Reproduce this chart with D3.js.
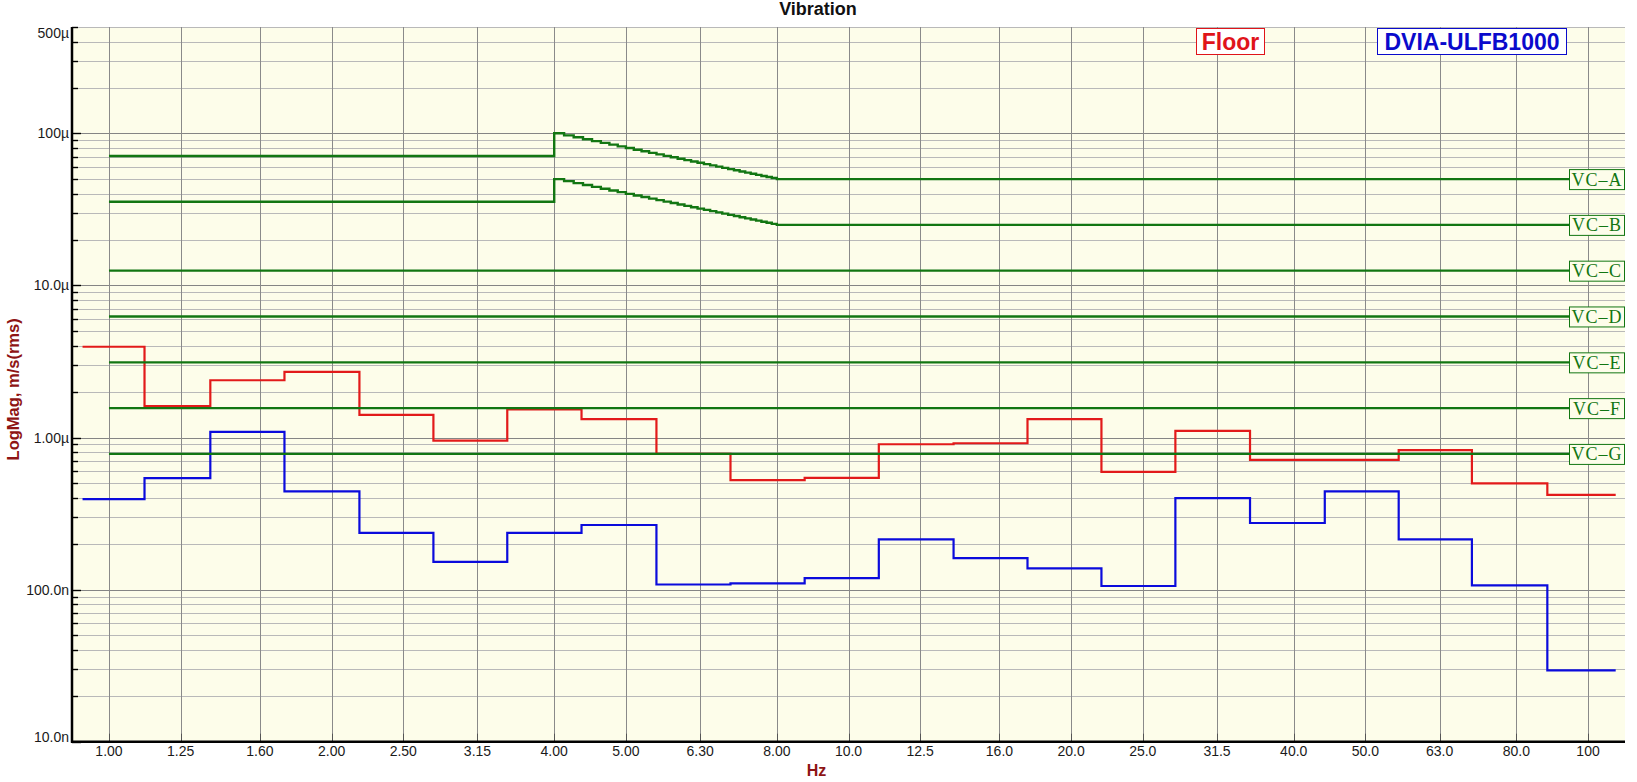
<!DOCTYPE html>
<html>
<head>
<meta charset="utf-8">
<script src="https://cdn.jsdelivr.net/npm/d3@7"></script>
<style>
  html, body { margin: 0; padding: 0; background: #ffffff; }
  svg { display: block; }
</style>
</head>
<body>
<svg id="chart" width="1637" height="782"></svg>
<script>
// ---------------- DATA ----------------
const bandLabels = ["1.00","1.25","1.60","2.00","2.50","3.15","4.00","5.00","6.30","8.00","10.0","12.5","16.0","20.0","25.0","31.5","40.0","50.0","63.0","80.0","100"];
const bandHz = [1, 1.25, 1.6, 2, 2.5, 3.15, 4, 5, 6.3, 8, 10, 12.5, 16, 20, 25, 31.5, 40, 50, 63, 80, 100];
// band boundaries (Hz) where the measured step traces change level
const bandEdgesHz = [1.117, 1.371, 1.727, 2.181, 2.746, 3.456, 4.355, 5.499, 6.925, 8.724, 10.99,
                     13.87, 17.46, 21.98, 27.67, 34.91, 44.06, 55.46, 69.66, 88.1];
const seriesStartHz = 0.921;
const seriesEndHz = 109;

// one-third-octave band levels, m/s rms
const floorVals = [3.95e-6, 1.61e-6, 2.38e-6, 2.70e-6, 1.41e-6, 0.955e-6, 1.53e-6, 1.32e-6, 0.78e-6, 0.524e-6, 0.542e-6,
                   0.903e-6, 0.917e-6, 1.32e-6, 0.594e-6, 1.107e-6, 0.712e-6, 0.712e-6, 0.825e-6, 0.500e-6, 0.419e-6];
const dviaVals  = [0.393e-6, 0.540e-6, 1.09e-6, 0.443e-6, 0.236e-6, 0.152e-6, 0.236e-6, 0.266e-6, 0.108e-6, 0.110e-6, 0.119e-6,
                   0.214e-6, 0.161e-6, 0.138e-6, 0.1056e-6, 0.399e-6, 0.274e-6, 0.443e-6, 0.214e-6, 0.1067e-6, 0.0294e-6];

// vibration criteria
const vcNames  = ["VC\u2013A", "VC\u2013B", "VC\u2013C", "VC\u2013D", "VC\u2013E", "VC\u2013F", "VC\u2013G"];
const vcLevels = [50e-6, 25e-6, 12.5e-6, 6.25e-6, 3.12e-6, 1.56e-6, 0.78e-6];
const vcStartHz = 1.0;
const vcLowA = 71e-6;   // VC-A below 4 Hz
const vcLowB = 35.5e-6; // VC-B below 4 Hz
const vcStairHz = [4, 4.125, 4.25, 4.375, 4.5, 4.625, 4.75, 4.875, 5, 5.125, 5.25, 5.375, 5.5, 5.625, 5.75, 5.875,
                   6, 6.125, 6.25, 6.375, 6.5, 6.625, 6.75, 6.875, 7, 7.125, 7.25, 7.375, 7.5, 7.625, 7.75, 7.875, 8];
const vcAStair = [100, 96.97, 94.12, 91.43, 88.89, 86.49, 84.21, 82.05, 80, 78.05, 76.19, 74.42, 72.73, 71.11, 69.57, 68.09,
                  66.67, 65.31, 64, 62.75, 61.54, 60.38, 59.26, 58.18, 57.14, 56.14, 55.17, 54.24, 53.33, 52.46, 51.61, 50.79, 50];
const vcBStair = [50, 48.48, 47.06, 45.71, 44.44, 43.24, 42.11, 41.03, 40, 39.02, 38.10, 37.21, 36.36, 35.56, 34.78, 34.04,
                  33.33, 32.65, 32, 31.37, 30.77, 30.19, 29.63, 29.09, 28.57, 28.07, 27.59, 27.12, 26.67, 26.23, 25.81, 25.40, 25];

const yTickValues = [1e-8, 1e-7, 1e-6, 1e-5, 1e-4, 5e-4];
const yTickLabels = ["10.0n", "100.0n", "1.00\u00b5", "10.0\u00b5", "100\u00b5", "500\u00b5"];

const legendNames = ["Floor", "DVIA-ULFB1000"];

// ---------------- LAYOUT ----------------
const L = 72, R = 1625, T = 27, B = 741.7;
const svg = d3.select("#chart");
const x = d3.scaleLog().domain([Math.pow(10, -0.05), Math.pow(10, 2.05)]).range([L, R]);
const y = d3.scaleLog().domain([1e-8, 5e-4]).range([B, T]);

const cRed = "#e21a1a", cBlue = "#0b0bdc", cGreen = "#127612", cAxisTitle = "#8e1414";
const sans = "'Liberation Sans', Arial, sans-serif";

// background
svg.append("rect").attr("x", L).attr("y", T).attr("width", R - L).attr("height", B - T).attr("fill", "#fdfdea");

// horizontal grid
const gridVals = [];
for (let e = -8; e <= -4; e++) {
  for (let m = 1; m <= 9; m++) {
    const v = m * Math.pow(10, e);
    if (v <= 5.0001e-4) gridVals.push({ v, major: m === 1 });
  }
}
svg.append("g").selectAll("line").data(gridVals).join("line")
  .attr("x1", L).attr("x2", R)
  .attr("y1", d => Math.round(y(d.v)) + 0.5).attr("y2", d => Math.round(y(d.v)) + 0.5)
  .attr("stroke", d => d.major ? "#858585" : "#b9b9b9").attr("stroke-width", 1);

// vertical grid
svg.append("g").selectAll("line").data(bandHz).join("line")
  .attr("x1", d => Math.round(x(d)) + 0.5).attr("x2", d => Math.round(x(d)) + 0.5)
  .attr("y1", T).attr("y2", B)
  .attr("stroke", "#8a8a8a").attr("stroke-width", 1);

// ---------------- SERIES ----------------
function bandPoints(vals) {
  const pts = [[seriesStartHz, vals[0]]];
  for (let i = 1; i < vals.length; i++) pts.push([bandEdgesHz[i - 1], vals[i]]);
  pts.push([seriesEndHz, vals[vals.length - 1]]);
  return pts;
}
const stepLine = d3.line().x(d => x(d[0])).y(d => y(d[1])).curve(d3.curveStepAfter);

svg.append("path").attr("d", stepLine(bandPoints(floorVals)))
  .attr("fill", "none").attr("stroke", cRed).attr("stroke-width", 2.2);
svg.append("path").attr("d", stepLine(bandPoints(dviaVals)))
  .attr("fill", "none").attr("stroke", cBlue).attr("stroke-width", 2.2);

// VC criteria
const boxW = 56, boxH = 20;
const vcEndHz = x.invert(R - boxW);
vcLevels.forEach((lvl, i) => {
  let pts;
  if (i === 0 || i === 1) {
    const low = i === 0 ? vcLowA : vcLowB;
    const stair = i === 0 ? vcAStair : vcBStair;
    pts = [[vcStartHz, low]];
    vcStairHz.forEach((f, k) => pts.push([f, stair[k] * 1e-6]));
    pts.push([vcEndHz, lvl]);
  } else {
    pts = [[vcStartHz, lvl], [vcEndHz, lvl]];
  }
  svg.append("path").attr("d", stepLine(pts))
    .attr("fill", "none").attr("stroke", cGreen).attr("stroke-width", 2.4);
  const yy = y(lvl);
  svg.append("rect").attr("x", R - boxW + 0.5).attr("y", yy - boxH / 2 + 0.5)
    .attr("width", boxW - 1).attr("height", boxH)
    .attr("fill", "#fdfdea").attr("stroke", cGreen).attr("stroke-width", 1);
  svg.append("text").attr("x", R - boxW / 2).attr("y", yy + 6.5)
    .attr("text-anchor", "middle")
    .attr("font-family", "'Liberation Serif', 'Times New Roman', serif")
    .attr("font-size", 18).attr("letter-spacing", 1)
    .attr("fill", cGreen).text(vcNames[i]);
});

// ---------------- AXES ----------------
// left axis ticks (inward)
svg.append("g").selectAll("line").data(gridVals).join("line")
  .attr("x1", L).attr("x2", d => d.major ? L + 9 : L + 6)
  .attr("y1", d => Math.round(y(d.v)) + 0.5).attr("y2", d => Math.round(y(d.v)) + 0.5)
  .attr("stroke", "#000").attr("stroke-width", 1.4);
// bottom ticks (inward)
svg.append("g").selectAll("line").data(bandHz).join("line")
  .attr("x1", d => Math.round(x(d)) + 0.5).attr("x2", d => Math.round(x(d)) + 0.5)
  .attr("y1", B).attr("y2", B - 8)
  .attr("stroke", "#555").attr("stroke-width", 1);

// axis lines
svg.append("line").attr("x1", L).attr("x2", L).attr("y1", T).attr("y2", B + 1)
  .attr("stroke", "#000").attr("stroke-width", 2.5);
svg.append("line").attr("x1", L - 1).attr("x2", R).attr("y1", B).attr("y2", B)
  .attr("stroke", "#000").attr("stroke-width", 2.5);

// y tick labels
svg.append("g").selectAll("text").data(yTickValues).join("text")
  .attr("x", L - 3)
  .attr("y", d => Math.min(Math.max(y(d), T + 6), B - 5) + 5)
  .attr("text-anchor", "end")
  .attr("font-family", sans).attr("font-size", 14).attr("fill", "#1a1a1a")
  .text((d, i) => yTickLabels[i]);

// x tick labels
svg.append("g").selectAll("text").data(bandHz).join("text")
  .attr("x", d => x(d)).attr("y", 756)
  .attr("text-anchor", "middle")
  .attr("font-family", sans).attr("font-size", 14).attr("fill", "#1a1a1a")
  .text((d, i) => bandLabels[i]);

// axis titles
svg.append("text").attr("x", (L + R) / 2 - 32).attr("y", 776)
  .attr("text-anchor", "middle").attr("font-family", sans).attr("font-weight", "bold")
  .attr("font-size", 16).attr("fill", cAxisTitle).text("Hz");
svg.append("text").attr("transform", `translate(19,${(T + B) / 2 + 5}) rotate(-90)`)
  .attr("text-anchor", "middle").attr("font-family", sans).attr("font-weight", "bold")
  .attr("font-size", 16.5).attr("fill", cAxisTitle).text("LogMag, m/s(rms)");

// title
svg.append("text").attr("x", 818).attr("y", 15)
  .attr("text-anchor", "middle").attr("font-family", sans).attr("font-weight", "bold")
  .attr("font-size", 18).attr("fill", "#111").text("Vibration");

// legend boxes
const legend = [
  { name: legendNames[0], color: "#e0141a", x0: 1196, x1: 1264 },
  { name: legendNames[1], color: "#0a0acc", x0: 1377, x1: 1566 }
];
legend.forEach(d => {
  svg.append("rect").attr("x", d.x0 + 0.5).attr("y", 28.5).attr("width", d.x1 - d.x0).attr("height", 26)
    .attr("fill", "#ffffff").attr("stroke", d.color).attr("stroke-width", 1);
  svg.append("text").attr("x", (d.x0 + d.x1) / 2 + 0.5).attr("y", 49.5)
    .attr("text-anchor", "middle").attr("font-family", sans).attr("font-weight", "bold")
    .attr("font-size", 23).attr("fill", d.color).text(d.name);
});
</script>
</body>
</html>
